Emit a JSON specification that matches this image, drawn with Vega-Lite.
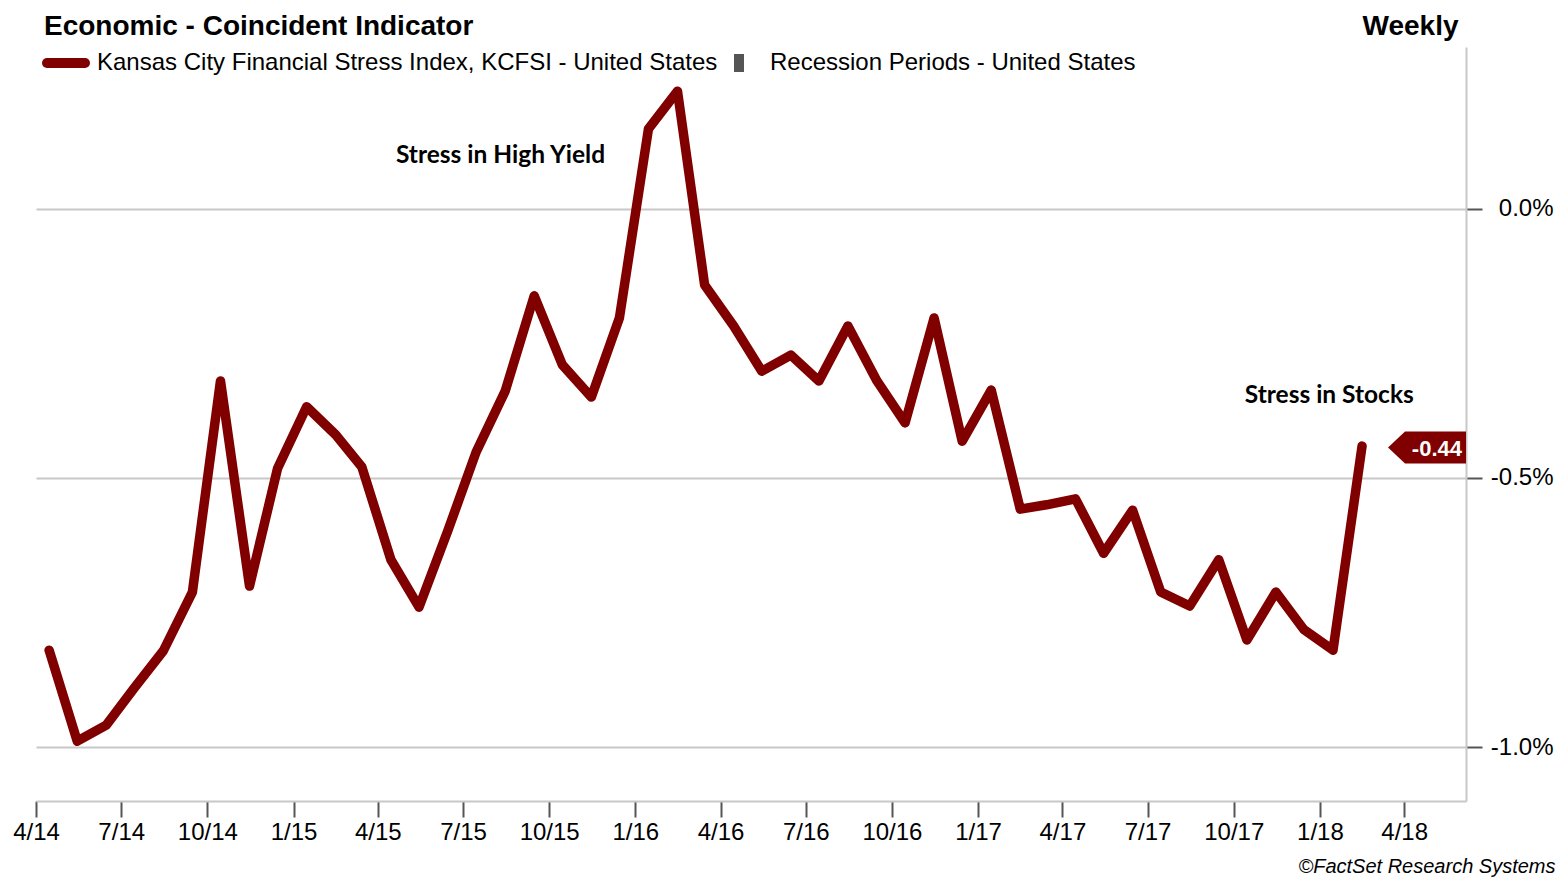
{
  "$schema": "https://vega.github.io/schema/vega-lite/v6.json",
  "width": 1430,
  "height": 754,
  "autosize": {"type": "none"},
  "padding": {"left": 36, "top": 47, "right": 94, "bottom": 78},
  "background": "#ffffff",
  "config": {
    "view": {"stroke": null},
    "font": "Liberation Sans",
    "locale": {"number": {"decimal": ".", "thousands": ",", "grouping": [3], "currency": ["$", ""], "minus": "-"}}
  },
  "title": {
    "text": "Economic - Coincident Indicator",
    "anchor": "start",
    "frame": "group",
    "font": "Liberation Sans",
    "fontSize": 28,
    "fontWeight": "bold",
    "color": "#000000",
    "baseline": "alphabetic",
    "offset": 0,
    "dx": 8,
    "dy": 51
  },
  "datasets": {
    "kcfsi": [
      {"date": "2014-04-15", "value": -0.820},
      {"date": "2014-05-15", "value": -0.989},
      {"date": "2014-06-15", "value": -0.959},
      {"date": "2014-07-15", "value": -0.890},
      {"date": "2014-08-15", "value": -0.821},
      {"date": "2014-09-15", "value": -0.712},
      {"date": "2014-10-15", "value": -0.320},
      {"date": "2014-11-15", "value": -0.701},
      {"date": "2014-12-15", "value": -0.482},
      {"date": "2015-01-15", "value": -0.368},
      {"date": "2015-02-15", "value": -0.420},
      {"date": "2015-03-15", "value": -0.480},
      {"date": "2015-04-15", "value": -0.652},
      {"date": "2015-05-15", "value": -0.740},
      {"date": "2015-06-15", "value": -0.597},
      {"date": "2015-07-15", "value": -0.452},
      {"date": "2015-08-15", "value": -0.339},
      {"date": "2015-09-15", "value": -0.162},
      {"date": "2015-10-15", "value": -0.290},
      {"date": "2015-11-15", "value": -0.350},
      {"date": "2015-12-15", "value": -0.203},
      {"date": "2016-01-15", "value": 0.148},
      {"date": "2016-02-15", "value": 0.218},
      {"date": "2016-03-15", "value": -0.142},
      {"date": "2016-04-15", "value": -0.218},
      {"date": "2016-05-15", "value": -0.302},
      {"date": "2016-06-15", "value": -0.272},
      {"date": "2016-07-15", "value": -0.320},
      {"date": "2016-08-15", "value": -0.218},
      {"date": "2016-09-15", "value": -0.320},
      {"date": "2016-10-15", "value": -0.398},
      {"date": "2016-11-15", "value": -0.203},
      {"date": "2016-12-15", "value": -0.432},
      {"date": "2017-01-15", "value": -0.337},
      {"date": "2017-02-15", "value": -0.558},
      {"date": "2017-03-15", "value": -0.550},
      {"date": "2017-04-15", "value": -0.539},
      {"date": "2017-05-15", "value": -0.640},
      {"date": "2017-06-15", "value": -0.560},
      {"date": "2017-07-15", "value": -0.712},
      {"date": "2017-08-15", "value": -0.738},
      {"date": "2017-09-15", "value": -0.652},
      {"date": "2017-10-15", "value": -0.801},
      {"date": "2017-11-15", "value": -0.712},
      {"date": "2017-12-15", "value": -0.782},
      {"date": "2018-01-15", "value": -0.820},
      {"date": "2018-02-15", "value": -0.441}
    ],
    "notes": [
      {"date": "2015-08-10", "value": 0.098, "text": "Stress in High Yield"},
      {"date": "2018-01-11", "value": -0.348, "text": "Stress in Stocks"}
    ],
    "last": [
      {"value": -0.44}
    ]
  },
  "layer": [
    {
      "data": {"name": "kcfsi"},
      "mark": {"type": "line", "strokeWidth": 9.5, "strokeCap": "round", "strokeJoin": "round"},
      "encoding": {
        "x": {
          "field": "date",
          "type": "temporal",
          "scale": {"type": "utc", "domain": [{"year": 2014, "month": 4, "date": 1, "utc": true}, {"year": 2018, "month": 6, "date": 6, "utc": true}]},
          "axis": {
            "title": "©FactSet Research Systems",
            "titleFont": "Liberation Sans",
            "titleFontStyle": "italic",
            "titleFontWeight": "normal",
            "titleFontSize": 20,
            "titleColor": "#000000",
            "titleAlign": "right",
            "titleAnchor": null,
            "titleBaseline": "alphabetic",
            "titleX": 1519,
            "titleY": 71,
            "tickCount": {"interval": "month", "step": 3},
            "format": "%-m/%y",
            "grid": false,
            "domainColor": "#c8c8c8",
            "domainWidth": 2,
            "tickColor": "#555555",
            "tickWidth": 2,
            "tickSize": 16,
            "labelFont": "Liberation Sans",
            "labelFontSize": 24,
            "labelColor": "#000000",
            "labelPadding": 3,
            "labelOverlap": false,
            "labelFlush": false
          }
        },
        "y": {
          "field": "value",
          "type": "quantitative",
          "scale": {"domain": [-1.1, 0.3], "nice": false, "zero": false},
          "axis": {
            "orient": "right",
            "values": [-1, -0.5, 0],
            "labelExpr": "format(datum.value, '.1f') + '%'",
            "title": "Weekly",
            "titleFont": "Liberation Sans",
            "titleFontSize": 28,
            "titleFontWeight": "bold",
            "titleColor": "#000000",
            "titleAngle": 0,
            "titleAlign": "right",
            "titleBaseline": "alphabetic",
            "titleAnchor": null,
            "titleX": -8,
            "titleY": -13,
            "grid": true,
            "gridColor": "#c8c8c8",
            "gridWidth": 2,
            "domainColor": "#c8c8c8",
            "domainWidth": 2,
            "tickColor": "#555555",
            "tickWidth": 2,
            "tickSize": 16,
            "labelFont": "Liberation Sans",
            "labelFontSize": 24,
            "labelColor": "#000000",
            "labelAlign": "right",
            "labelBaseline": "middle",
            "labelPadding": 71
          }
        },
        "color": {
          "datum": "Kansas City Financial Stress Index, KCFSI - United States",
          "type": "nominal",
          "scale": {
            "domain": ["Kansas City Financial Stress Index, KCFSI - United States", "Recession Periods - United States"],
            "range": ["#800000", "#555555"]
          },
          "legend": {
            "orient": "none",
            "legendX": 18,
            "legendY": 4,
            "direction": "horizontal",
            "title": null,
            "padding": 0,
            "gridAlign": "none",
            "labelFont": "Liberation Sans",
            "labelFontSize": 24,
            "labelColor": "#000000",
            "labelLimit": 1000,
            "labelOffset": 19,
            "columnPadding": 9,
            "symbolType": "stroke",
            "symbolSize": 1444,
            "symbolStrokeWidth": 10,
            "encode": {
              "symbols": {
                "update": {
                  "shape": {"signal": "datum.value == 'Recession Periods - United States' ? 'M-0.263,-0.474H0.263V0.474H-0.263Z' : 'stroke'"},
                  "fill": {"signal": "datum.value == 'Recession Periods - United States' ? '#555555' : 'transparent'"},
                  "strokeWidth": {"signal": "datum.value == 'Recession Periods - United States' ? 0 : 10"},
                  "strokeCap": {"value": "round"},
                  "opacity": {"value": 1}
                }
              }
            }
          }
        }
      }
    },
    {
      "data": {"name": "notes"},
      "mark": {"type": "text", "font": "Lato", "fontWeight": "bold", "fontSize": 24.5, "color": "#000000", "align": "center", "baseline": "middle"},
      "encoding": {
        "x": {"field": "date", "type": "temporal"},
        "y": {"field": "value", "type": "quantitative"},
        "text": {"field": "text", "type": "nominal"}
      }
    },
    {
      "data": {"name": "last"},
      "mark": {"type": "point", "shape": "M0,-0.35L-1.525,-0.35L-1.95,0.05L-1.525,0.45L0,0.45Z", "size": 6400, "filled": true, "color": "#800000", "opacity": 1, "strokeWidth": 0},
      "encoding": {
        "x": {"datum": {"year": 2018, "month": 6, "date": 6, "utc": true}, "type": "temporal"},
        "y": {"field": "value", "type": "quantitative"}
      }
    },
    {
      "data": {"name": "last"},
      "mark": {"type": "text", "font": "Liberation Sans", "fontWeight": "bold", "fontSize": 22, "color": "#ffffff", "align": "right", "baseline": "middle", "dx": -4, "dy": 3},
      "encoding": {
        "x": {"datum": {"year": 2018, "month": 6, "date": 6, "utc": true}, "type": "temporal"},
        "y": {"field": "value", "type": "quantitative"},
        "text": {"field": "value", "type": "quantitative", "format": ".2f"}
      }
    }
  ]
}
